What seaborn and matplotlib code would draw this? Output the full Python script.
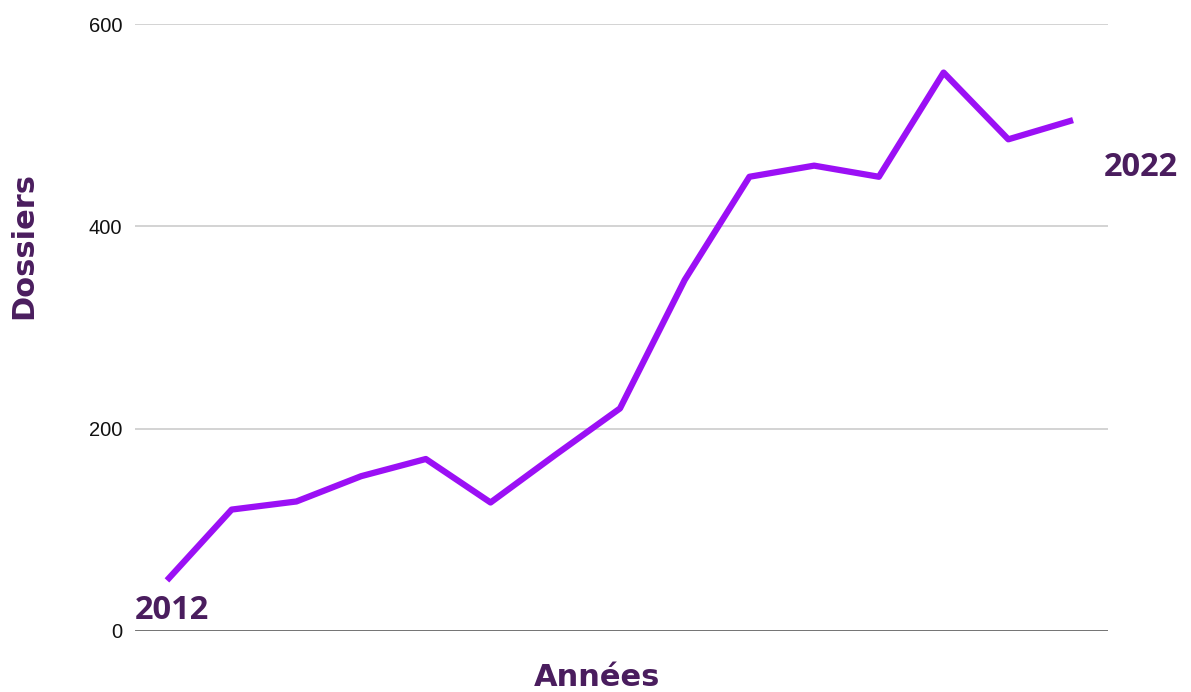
import numpy as np
import matplotlib.pyplot as plt
import pandas as pd
import seaborn as sns

# values (15 points between 2012 and 2022)
points = list(range(15))
dossiers = [50, 120, 128, 153, 170, 127, 174, 220, 347, 449, 460, 449, 552, 486, 505]
y_ticks = [0, 200, 400, 600]
first_label = "2012"
last_label = "2022"

df = pd.DataFrame({"point": points, "dossiers": dossiers})

sns.set_style("white")
plt.rcParams['font.family'] = ['Liberation Sans', 'DejaVu Sans']

fig = plt.figure(figsize=(11.91, 6.92), dpi=100)
ax = fig.add_axes([0.1133, 0.0882, 0.817, 0.8771])

sns.lineplot(data=df, x="point", y="dossiers", color="#9B10F5", linewidth=4.5,
             solid_capstyle="butt", ax=ax)

ax.set_xlim(-0.4945, 14.54)
ax.set_ylim(0, 600)
ax.set_yticks(y_ticks)
ax.set_yticklabels([str(t) for t in y_ticks], fontsize=14.5, color="#111111")
ax.set_xticks([])
ax.tick_params(axis="y", length=0, pad=9)
for t in y_ticks[1:]:
    ax.axhline(t, color="#cccccc", linewidth=1.2, zorder=0)
ax.axhline(0, color="#666666", linewidth=2, zorder=1)
for s in ax.spines.values():
    s.set_visible(False)
ax.set_xlabel("")
ax.set_ylabel("")

purple = "#4A1D5E"
ax.annotate(first_label, xy=(points[0], dossiers[0]), xytext=(-23, -22),
            textcoords="offset points", fontsize=23.5, fontweight="bold",
            family="Open Sans", color=purple, ha="left", va="center")
ax.annotate(last_label, xy=(points[-1], dossiers[-1]), xytext=(22, -34),
            textcoords="offset points", fontsize=23.5, fontweight="bold",
            family="Open Sans", color=purple, ha="left", va="center")

fig.text(597 / 1191, 1 - 677 / 692, "Années", fontsize=22, fontweight="bold",
         family="DejaVu Sans", color=purple, ha="center", va="center")
fig.text(24 / 1191, 1 - 245 / 692, "Dossiers", fontsize=22, fontweight="bold",
         family="DejaVu Sans", color=purple, ha="center", va="center", rotation=90)

fig.savefig("out.png", dpi=100)
